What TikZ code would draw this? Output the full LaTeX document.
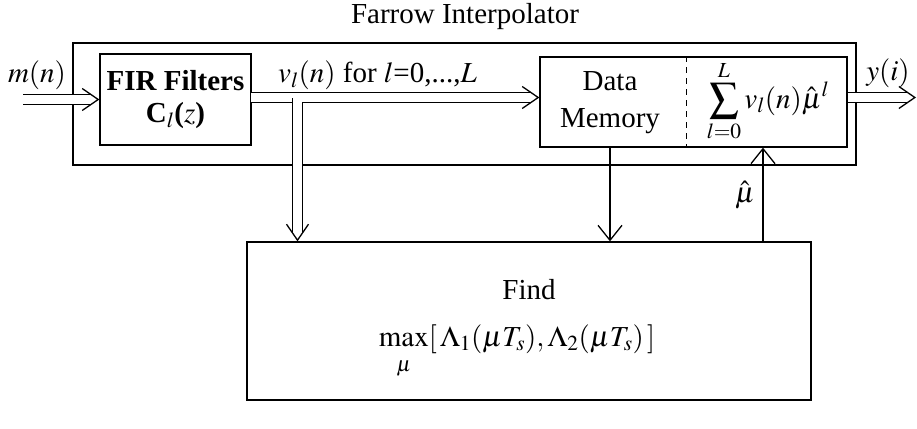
\documentclass[tikz,border=0pt]{standalone}
\usepackage{amsmath}
\usepackage{mathptmx}
\usepackage[no-math]{fontspec}
\setmainfont{Liberation Serif}
\usetikzlibrary{arrows.meta}
\begin{document}
\begin{tikzpicture}[x=1pt,y=-1pt,
  every node/.style={font=\fontsize{29}{34}\selectfont, inner sep=0pt},
  blk/.style={draw, line width=1.3pt, inner sep=0pt},
  dbl/.style={line width=1.3pt, double, double distance=9pt, shorten >=8pt},
  vtip/.style={line width=1.3pt, -{Straight Barb[length=16pt,width=22pt]}},
  arr/.style={line width=1.3pt, -{Straight Barb[length=15pt,width=24pt]}}]
\useasboundingbox (0,0) rectangle (917,428);
% boxes
\node[blk, minimum width=783pt, minimum height=122pt] (farrow) at (464.5,104) {};
\node[blk, fill=white, minimum width=151pt, minimum height=91pt, align=center] (fir) at (175.5,99.5)
  {\textbf{FIR Filters}\\[-2pt]\textbf{C}$_l$\textbf{(}$\boldsymbol{z}$\textbf{)}};
\node[blk, minimum width=307pt, minimum height=90pt] (dm) at (693.5,102) {};
\node[blk, minimum width=564pt, minimum height=158pt] (find) at (529,321) {};
% texts
\node (title) at (465,17) {Farrow Interpolator};
\node (dmtext) at (610,103) [align=center] {Data\\[3pt]Memory};
\node (sum) at (768,101) {$\displaystyle\sum_{l=0}^{L} v_l(n)\hat{\mu}^{l}$};
\node (findtxt) at (529,290) {Find};
\node (maxtxt) at (517,352) {$\displaystyle\max_{\rule{0pt}{20pt}\mu}[\,\Lambda_1(\mu T_s),\Lambda_2(\mu T_s)\,]$};
\node (mlab) at (37,75) {$m(n)$};
\node[anchor=west] (vlab) at (278,75) {$v_l(n)$ for $l$=0,...,$L$};
\node (ylab) at (888,73) {$y(i)$};
\node (mulab) at (745,195) {$\hat{\mu}$};
% dashed separator
\draw[line width=1pt, dash pattern=on 6pt off 5pt] (dm.north -| 686,0) -- (dm.south -| 686,0);
% coordinates
\coordinate (in) at (23,99.5);
\coordinate (busL) at (251,97.5);
\coordinate (tap) at (297.5,97.5);
\coordinate (out) at (916,97.5);
% input
\draw[dbl] (in) -- (fir.west);
\draw[vtip] ([xshift=-1pt]fir.west) -- (fir.west);
% bus to data memory
\draw[dbl] (busL) -- (dm.west |- busL);
\draw[vtip] ([xshift=-1pt]dm.west |- busL) -- (dm.west |- busL);
% branch down
\draw[dbl] (tap) -- (find.north -| tap);
\draw[white, line width=9pt] (292.5,97.5) -- (302.5,97.5);
\draw[vtip] ([yshift=1pt]find.north -| tap) -- (find.north -| tap);
% output
\draw[dbl] (dm.east |- out) -- (out);
\draw[vtip] ([xshift=-1pt]out) -- (out);
% single arrows
\draw[arr] (dm.south -| 610,0) -- (find.north -| 610,0);
\draw[arr] (find.north -| 763,0) -- (dm.south -| 763,0);
\end{tikzpicture}
\end{document}
